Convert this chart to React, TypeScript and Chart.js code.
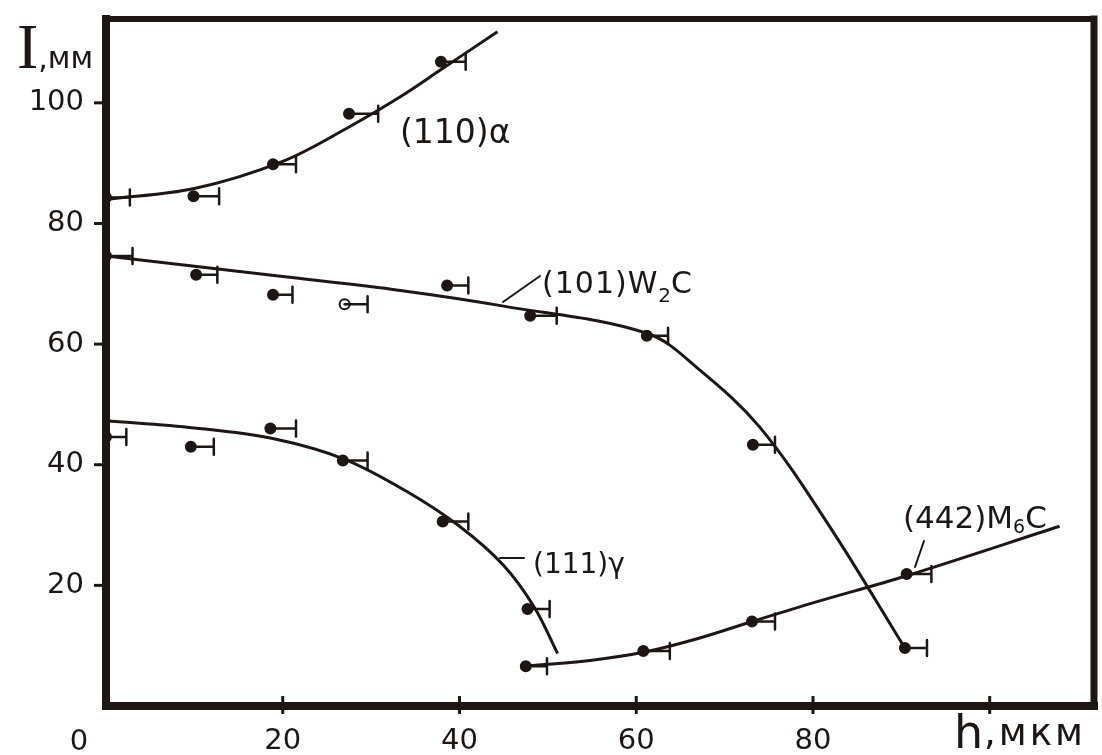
import React, { useEffect, useRef } from 'react';
import { Chart, registerables } from 'chart.js';

Chart.register(...registerables);

const INK = '#1e1614';
const SANS = '"DejaVu Sans", "Liberation Sans", sans-serif';
const SERIF = '"Liberation Serif", "DejaVu Serif", serif';

// Axis ranges and labelled ticks
const xMin = 0;
const xMax = 111.8;
const yMin = 0;
const yMax = 113.9;
const xTickValues = [20, 40, 60, 80, 100];
const xTickLabels = ['20', '40', '60', '80'];
const yTickValues = [20, 40, 60, 80, 100];
const yTickLabels = ['20', '40', '60', '80', '100'];

// (110)α — measured points (h, I) and right end of the h error bar
const alphaH = [0, 9.9, 18.9, 27.5, 37.9];
const alphaI = [84.3, 84.5, 89.8, 98.2, 106.8];
const alphaHEnd = [2.7, 12.8, 21.5, 30.8, 40.7];
// (110)α — drawn smooth curve
const alphaCurveH = [0, 10, 20, 27.5, 33.3, 38, 44.3];
const alphaCurveI = [84.0, 85.8, 90.3, 96.0, 101.0, 105.6, 111.8];

// (101)W2C
const w2cH = [0, 10.2, 18.9, 27.0, 38.6, 48.0, 61.2, 73.2, 90.4];
const w2cI = [74.6, 71.5, 68.2, 66.6, 69.7, 64.7, 61.4, 43.3, 9.6];
const w2cHEnd = [3.0, 12.6, 21.1, 29.6, 41.0, 51.0, 63.6, 75.7, 92.9];
const w2cOpen = [false, false, false, true, false, false, false, false, false];
const w2cCurveH = [0, 20, 33.3, 45, 61.2, 67.2, 74, 82, 90.4];
const w2cCurveI = [74.6, 71.2, 68.9, 66.3, 61.8, 55.7, 46.2, 29.5, 9.6];

// (111)γ
const gammaH = [0, 9.6, 18.6, 26.8, 38.1, 47.7];
const gammaI = [44.6, 43.0, 46.0, 40.7, 30.6, 16.1];
const gammaHEnd = [2.3, 12.2, 21.5, 29.6, 41.0, 50.2];
const gammaCurveH = [0, 10, 19, 27, 34, 40, 45, 48.5, 51.1];
const gammaCurveI = [47.3, 46.1, 44.3, 40.9, 35.6, 29.8, 23.3, 16.3, 8.7];

// (442)M6C
const m6cH = [47.5, 60.8, 73.1, 90.6];
const m6cI = [6.6, 9.1, 14.0, 21.9];
const m6cHEnd = [49.9, 63.8, 75.7, 93.4];
const m6cCurveH = [47.5, 55, 60.8, 67, 73.1, 80, 90.6, 107.9];
const m6cCurveI = [6.6, 7.6, 8.9, 11.2, 14.0, 17.1, 21.6, 29.8];

const toXY = (xs: number[], ys: number[]) => xs.map((x, i) => ({ x, y: ys[i] }));

const curveDs = (xs: number[], ys: number[]) => ({
  data: toXY(xs, ys),
  borderColor: INK,
  borderWidth: 3,
  pointRadius: 0,
  tension: 0.35,
  fill: false,
  order: 2,
});

const pointDs = (xs: number[], ys: number[], ends: number[], open?: boolean[]) => ({
  data: toXY(xs, ys),
  hEnd: ends,
  showLine: false,
  pointRadius: 5,
  pointBorderWidth: 2,
  pointBorderColor: INK,
  pointBackgroundColor: xs.map((_, i) => (open && open[i] ? '#ffffff' : INK)),
  order: 1,
});

type Run = { t: string; size: number; dy?: number; font?: string; spacing?: number };

function drawRuns(ctx: CanvasRenderingContext2D, x: number, y: number, runs: Run[]) {
  let cx = x;
  for (const r of runs) {
    ctx.font = `${r.size}px ${r.font || SANS}`;
    (ctx as any).letterSpacing = `${r.spacing || 0}px`;
    ctx.fillText(r.t, cx, y + (r.dy || 0));
    cx += ctx.measureText(r.t).width;
  }
  (ctx as any).letterSpacing = '0px';
}

const decorPlugin = {
  id: 'decor',
  beforeDraw(chart: any) {
    const { ctx, width, height } = chart;
    ctx.save();
    ctx.fillStyle = '#ffffff';
    ctx.fillRect(0, 0, width, height);
    ctx.restore();
  },
  afterDatasetsDraw(chart: any) {
    const { ctx } = chart;
    const xs = chart.scales.x;
    const ys = chart.scales.y;
    ctx.save();
    ctx.strokeStyle = INK;
    ctx.lineWidth = 2.5;
    ctx.lineCap = 'round';
    chart.data.datasets.forEach((ds: any) => {
      if (!ds.hEnd) return;
      ds.data.forEach((p: any, i: number) => {
        const x0 = xs.getPixelForValue(p.x);
        const x1 = xs.getPixelForValue(ds.hEnd[i]);
        const py = ys.getPixelForValue(p.y);
        ctx.beginPath();
        ctx.moveTo(x0, py);
        ctx.lineTo(x1, py);
        ctx.moveTo(x1, py - 8);
        ctx.lineTo(x1, py + 8);
        ctx.stroke();
      });
    });
    ctx.restore();
  },
  afterDraw(chart: any) {
    const { ctx, chartArea: a } = chart;
    const xs = chart.scales.x;
    const ys = chart.scales.y;
    ctx.save();
    ctx.strokeStyle = INK;
    ctx.lineCap = 'square';
    // frame
    ctx.lineWidth = 6;
    ctx.beginPath();
    ctx.moveTo(a.left, a.top);
    ctx.lineTo(a.right, a.top);
    ctx.stroke();
    ctx.lineWidth = 7;
    ctx.beginPath();
    ctx.moveTo(a.right, a.top);
    ctx.lineTo(a.right, a.bottom);
    ctx.stroke();
    ctx.lineWidth = 8;
    ctx.beginPath();
    ctx.moveTo(a.left, a.top);
    ctx.lineTo(a.left, a.bottom);
    ctx.lineTo(a.right, a.bottom);
    ctx.stroke();
    // ticks
    ctx.lineCap = 'butt';
    ctx.lineWidth = 3;
    xTickValues.forEach((v) => {
      const px = xs.getPixelForValue(v);
      ctx.beginPath();
      ctx.moveTo(px, a.bottom - 10);
      ctx.lineTo(px, a.bottom + 8);
      ctx.stroke();
    });
    yTickValues.forEach((v) => {
      const py = ys.getPixelForValue(v);
      ctx.beginPath();
      ctx.moveTo(a.left - 12, py);
      ctx.lineTo(a.left, py);
      ctx.stroke();
    });

    // axis titles and origin label
    ctx.fillStyle = INK;
    ctx.textBaseline = 'alphabetic';
    ctx.textAlign = 'left';
    drawRuns(ctx, 17, 68, [
      { t: 'I', size: 64, font: SERIF },
      { t: ',мм', size: 30 },
    ]);
    drawRuns(ctx, 954, 748, [{ t: 'h', size: 46 }]);
    drawRuns(ctx, 984, 745, [{ t: ',мкм', size: 37, spacing: 3 }]);
    ctx.font = `29px ${SANS}`;
    ctx.textAlign = 'center';
    ctx.fillText('0', 79, 750);
    ctx.textAlign = 'left';

    // curve labels
    drawRuns(ctx, 400, 143, [{ t: '(110)α', size: 33 }]);
    drawRuns(ctx, 542, 293, [
      { t: '(101)W', size: 30, spacing: 1 },
      { t: '2', size: 20, dy: 9 },
      { t: 'C', size: 30 },
    ]);
    drawRuns(ctx, 533, 573, [{ t: '(111)γ', size: 28 }]);
    drawRuns(ctx, 903, 528, [
      { t: '(442)M', size: 31 },
      { t: '6', size: 19, dy: 5 },
      { t: 'C', size: 31 },
    ]);

    // leader lines
    ctx.lineWidth = 2;
    ctx.lineCap = 'round';
    ctx.beginPath();
    ctx.moveTo(503, 302);
    ctx.lineTo(540, 276);
    ctx.moveTo(500, 558);
    ctx.lineTo(524, 558);
    ctx.moveTo(915, 567);
    ctx.lineTo(924, 541);
    ctx.stroke();
    ctx.restore();
  },
};

export default function App() {
  const ref = useRef<HTMLCanvasElement | null>(null);

  useEffect(() => {
    document.body.style.margin = '0';
    const canvas = ref.current;
    if (!canvas) return;
    const chart = new Chart(canvas, {
      type: 'line',
      data: {
        datasets: [
          curveDs(alphaCurveH, alphaCurveI),
          curveDs(w2cCurveH, w2cCurveI),
          curveDs(gammaCurveH, gammaCurveI),
          curveDs(m6cCurveH, m6cCurveI),
          pointDs(alphaH, alphaI, alphaHEnd),
          pointDs(w2cH, w2cI, w2cHEnd, w2cOpen),
          pointDs(gammaH, gammaI, gammaHEnd),
          pointDs(m6cH, m6cI, m6cHEnd),
        ] as any,
      },
      options: {
        animation: false,
        responsive: false,
        maintainAspectRatio: false,
        layout: { padding: { left: 0, top: 19, right: 8, bottom: 0 } },
        plugins: {
          legend: { display: false },
          tooltip: { enabled: false },
        },
        scales: {
          x: {
            type: 'linear',
            min: xMin,
            max: xMax,
            grid: { display: false, drawTicks: false },
            border: { display: false },
            afterFit: (s: any) => {
              s.height = 49;
              s.paddingLeft = 0;
              s.paddingRight = 0;
            },
            ticks: {
              stepSize: 20,
              padding: 18,
              color: INK,
              font: { family: 'DejaVu Sans', size: 29 },
              callback: (v: any) => {
                const i = xTickValues.indexOf(Number(v));
                return i >= 0 && i < xTickLabels.length ? xTickLabels[i] : '';
              },
            },
          },
          y: {
            type: 'linear',
            min: yMin,
            max: yMax,
            grid: { display: false, drawTicks: false },
            border: { display: false },
            afterFit: (s: any) => {
              s.width = 106;
              s.paddingTop = 0;
              s.paddingBottom = 0;
            },
            ticks: {
              stepSize: 20,
              padding: 22,
              color: INK,
              font: { family: 'DejaVu Sans', size: 29 },
              callback: (v: any) => {
                const i = yTickValues.indexOf(Number(v));
                return i >= 0 ? yTickLabels[i] : '';
              },
            },
          },
        },
      },
      plugins: [decorPlugin],
    });
    return () => chart.destroy();
  }, []);

  return (
    <div style={{ width: 1102, height: 755, position: 'relative' }}>
      <canvas ref={ref} width={1102} height={755} style={{ display: 'block' }} />
    </div>
  );
}
